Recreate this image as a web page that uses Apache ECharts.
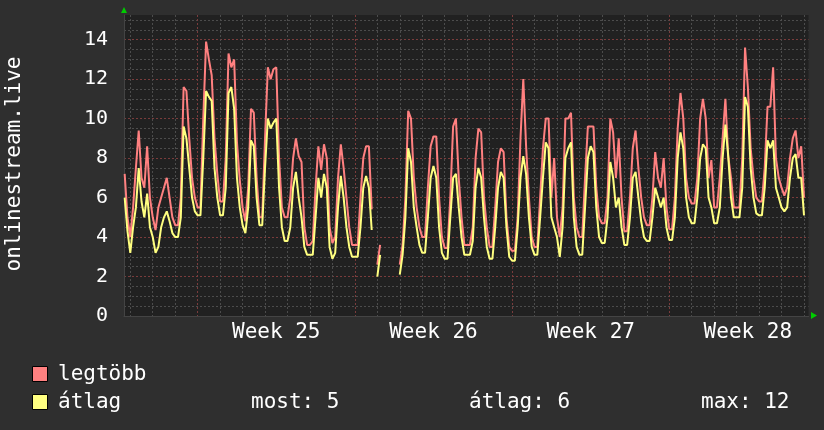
<!DOCTYPE html>
<html>
<head>
<meta charset="utf-8">
<script src="https://cdn.jsdelivr.net/npm/echarts@6/dist/echarts.min.js"></script>
<style>
  html, body { margin: 0; padding: 0; background: #2f2f2f; }
  #chart { width: 824px; height: 430px; }
</style>
</head>
<body>
<div id="chart"></div>
<script>
// x in days, 0 = monday of week 25, one sample every 3 hours
const startDay = -3.25;
const stepDay = 0.125;

const legtobb = [
  7.2, 5.0,
  4.0, 5.5, 7.5, 9.4, 7.0, 6.5, 8.6, 6.0,
  5.0, 4.35, 5.5, 6.0, 6.5, 7.0, 6.0, 5.0,
  4.6, 4.6, 6.0, 11.6, 11.4, 9.0, 7.0, 6.0,
  5.5, 5.5, 10.0, 13.9, 13.0, 12.2, 9.0, 7.2,
  5.8, 5.8, 8.0, 13.3, 12.6, 13.0, 8.8, 6.9,
  5.5, 4.8, 6.5, 10.5, 10.3, 7.0, 5.0, 5.0,
  9.0, 12.6, 12.0, 12.5, 12.6, 8.0, 5.5, 5.0,
  5.0, 6.0, 8.0, 9.0, 8.1, 7.8, 4.5, 3.6,
  3.6, 3.8, 6.5, 8.6, 7.4, 8.7, 8.0, 4.5,
  3.7, 4.0, 7.0, 8.7, 7.5, 6.0, 4.5, 3.6,
  3.6, 3.6, 6.0, 8.0, 8.6, 8.6, 5.4, null,
  2.6, 3.6, null, null, null, null, null, null,
  2.6, 3.6, 6.0, 10.4, 10.0, 7.0, 5.5, 4.5,
  4.0, 4.0, 6.5, 8.6, 9.1, 9.1, 6.0, 4.0,
  3.45, 3.45, 6.0, 9.6, 10.0, 7.0, 5.0, 3.6,
  3.6, 3.6, 4.5, 8.0, 9.5, 9.3, 6.0, 4.5,
  3.5, 3.5, 5.5, 7.8, 8.5, 8.3, 5.0, 3.5,
  3.3, 3.3, 5.0, 9.0, 12.0, 8.6, 6.0, 4.0,
  3.5, 3.5, 6.0, 8.5, 10.0, 10.0, 6.0, 8.0,
  5.0, 4.0, 5.5, 10.0, 10.0, 10.3, 6.0, 4.5,
  4.0, 4.0, 7.0, 9.6, 9.6, 9.6, 6.5, 5.0,
  4.7, 4.7, 6.0, 10.0, 9.3, 7.0, 9.0, 6.0,
  4.3, 4.3, 6.0, 8.5, 9.4, 7.5, 6.0, 5.0,
  4.6, 4.6, 6.0, 8.3, 7.0, 6.5, 8.0, 5.5,
  4.4, 4.4, 6.0, 9.5, 11.3, 10.0, 7.0, 6.0,
  5.7, 5.7, 7.0, 10.0, 11.0, 10.0, 7.0, 7.9,
  5.5, 5.5, 7.0, 9.0, 11.0, 8.1, 7.0, 5.5,
  5.5, 5.5, 8.0, 13.6, 11.6, 8.5, 7.0, 6.0,
  5.8, 5.8, 7.5, 10.6, 10.6, 12.6, 8.0, 7.0,
  6.5, 6.1, 6.5, 8.0, 9.0, 9.4, 8.0, 8.6,
  6.0
];

const atlag = [
  6.0, 4.3,
  3.2, 4.5, 5.5, 7.5, 5.8, 5.0, 6.2, 4.5,
  4.0, 3.2, 3.5, 4.5, 5.0, 5.3, 4.8, 4.2,
  4.0, 4.0, 5.0, 9.6, 9.0, 7.5, 6.0, 5.3,
  5.1, 5.1, 8.0, 11.4, 11.1, 10.9, 7.5, 6.0,
  5.1, 5.1, 6.5, 11.3, 11.6, 10.5, 7.0, 5.5,
  4.6, 4.2, 5.5, 8.9, 8.6, 6.0, 4.6, 4.6,
  7.5, 10.0, 9.5, 9.8, 10.0, 6.5, 4.5, 3.8,
  3.8, 4.5, 6.5, 7.3, 6.0, 5.0, 3.5, 3.1,
  3.1, 3.1, 5.0, 7.0, 6.0, 7.2, 6.5, 3.5,
  2.9, 3.2, 5.5, 7.1, 6.0, 4.5, 3.5, 3.0,
  3.0, 3.0, 4.5, 6.5, 7.1, 6.5, 4.36, null,
  2.0, 3.1, null, null, null, null, null, null,
  2.1, 3.1, 5.0, 8.5, 7.8, 5.5, 4.5, 3.6,
  3.2, 3.2, 5.0, 7.0, 7.6, 7.0, 4.5, 3.2,
  2.9, 2.9, 5.0, 7.0, 7.2, 5.5, 4.0, 3.1,
  3.1, 3.1, 3.8, 6.5, 7.5, 7.0, 5.0, 3.5,
  2.9, 2.9, 4.5, 6.5, 7.3, 7.0, 4.5, 3.0,
  2.8, 2.8, 4.5, 7.0, 8.1, 7.2, 5.0, 3.5,
  3.1, 3.1, 5.0, 7.0, 8.8, 8.5, 5.0, 4.5,
  4.0, 3.0, 4.5, 8.0, 8.5, 8.8, 5.0, 3.5,
  3.1, 3.1, 5.5, 8.0, 8.6, 8.3, 5.5, 4.0,
  3.7, 3.7, 5.0, 7.8, 7.0, 5.5, 6.0, 4.5,
  3.6, 3.6, 5.0, 7.0, 7.3, 6.0, 4.8, 4.0,
  3.8, 3.8, 5.0, 6.5, 6.0, 5.5, 6.0, 4.5,
  3.85, 3.85, 5.0, 8.0, 9.3, 8.5, 6.0, 5.0,
  4.7, 4.7, 6.0, 8.0, 8.7, 8.5, 6.0, 5.5,
  4.7, 4.7, 5.5, 8.0, 9.7, 8.1, 6.0, 5.0,
  5.0, 5.0, 6.5, 11.1, 10.6, 7.5, 6.0, 5.2,
  5.1, 5.1, 6.5, 8.9, 8.5, 8.9, 6.5, 6.0,
  5.5, 5.3, 5.5, 7.0, 8.0, 8.2, 7.0, 7.0,
  5.1
];

const yTicks = [0, 2, 4, 6, 8, 10, 12, 14];
const weekStarts = [0, 7, 14, 21];
const weekCenters = [3.5, 10.5, 17.5, 24.5];
const weekLabels = ["Week 25", "Week 26", "Week 27", "Week 28"];
const legendStats = ["most: 5", "átlag: 6", "max: 12"];

const FONT = "DejaVu Sans Mono";
const X_MIN = -3.28, X_MAX = 27.2;
const Y_MIN = 0, Y_MAX = 15.25;

// minor grid: every day / every half unit, except where a major line sits
const dayLines = [];
for (let d = -3; d <= 27; d++) if (weekStarts.indexOf(d) < 0) dayLines.push(d);
const halfLines = [];
for (let v = 0.5; v <= 15; v += 0.5) if (v % 2 !== 0) halfLines.push(v);

const toPoints = (arr) => arr.map((v, i) => [startDay + i * stepDay, v]);

const chart = echarts.init(document.getElementById("chart"));

const major = "#7a3c3c";
const minor = "#4c4c4c";
const dotted = (color) => ({ show: true, lineStyle: { type: [2, 2], width: 1, color } });
const hidden = { show: false };

const option = {
  backgroundColor: "#2f2f2f",
  animation: false,
  grid: {
    left: 124, right: 15.5, top: 15, bottom: 114,
    show: true, backgroundColor: "#212121", borderWidth: 0
  },
  xAxis: [
    {
      type: "value", min: X_MIN, max: X_MAX,
      axisLine: { show: true, onZero: false, lineStyle: { color: "#444", width: 1 } },
      axisTick: { show: false, customValues: dayLines },
      axisLabel: {
        customValues: weekCenters,
        color: "#ffffff",
        fontFamily: FONT,
        fontSize: 21,
        margin: 6,
        formatter: (v) => weekLabels[weekCenters.indexOf(v)] || ""
      },
      splitLine: dotted(minor)
    },
    {
      type: "value", min: X_MIN, max: X_MAX, position: "bottom",
      axisLine: hidden, axisLabel: hidden,
      axisTick: { show: false, customValues: weekStarts },
      splitLine: dotted(major)
    }
  ],
  yAxis: [
    {
      type: "value", min: Y_MIN, max: Y_MAX,
      axisLine: { show: true, onZero: false, lineStyle: { color: "#444", width: 1 } },
      axisTick: { show: false, customValues: halfLines },
      axisLabel: {
        customValues: yTicks,
        color: "#ffffff",
        fontFamily: FONT,
        fontSize: 20,
        margin: 16
      },
      splitLine: dotted(minor)
    },
    {
      type: "value", min: Y_MIN, max: Y_MAX, position: "left",
      axisLine: hidden, axisLabel: hidden,
      axisTick: { show: false, customValues: yTicks },
      splitLine: dotted(major)
    }
  ],
  series: [
    {
      name: "legtöbb",
      type: "line",
      data: toPoints(legtobb),
      showSymbol: false,
      connectNulls: false,
      lineStyle: { color: "#ff8080", width: 2 },
      z: 3
    },
    {
      name: "átlag",
      type: "line",
      data: toPoints(atlag),
      showSymbol: false,
      connectNulls: false,
      lineStyle: { color: "#ffff80", width: 2 },
      z: 4
    }
  ],
  graphic: [
    {
      type: "text", x: 14.5, y: 164, rotation: Math.PI / 2,
      style: { text: "onlinestream.live", fill: "#fff", font: "21px " + FONT, align: "center", verticalAlign: "middle" }
    },
    { type: "polygon", shape: { points: [[121, 13], [127, 13], [124, 7]] }, style: { fill: "#00cc00" } },
    { type: "polygon", shape: { points: [[811, 312], [811, 319], [817, 315.5]] }, style: { fill: "#00cc00" } },
    { type: "rect", shape: { x: 32.5, y: 366.5, width: 15, height: 15 }, style: { fill: "#ff8080", stroke: "#000", lineWidth: 1 } },
    { type: "rect", shape: { x: 32.5, y: 394.5, width: 15, height: 15 }, style: { fill: "#ffff80", stroke: "#000", lineWidth: 1 } },
    { type: "text", x: 58, y: 375, style: { text: "legtöbb", fill: "#fff", font: "21px " + FONT, verticalAlign: "middle" } },
    { type: "text", x: 58, y: 403, style: { text: "átlag", fill: "#fff", font: "21px " + FONT, verticalAlign: "middle" } },
    { type: "text", x: 251, y: 403, style: { text: legendStats[0], fill: "#fff", font: "21px " + FONT, verticalAlign: "middle" } },
    { type: "text", x: 469, y: 403, style: { text: legendStats[1], fill: "#fff", font: "21px " + FONT, verticalAlign: "middle" } },
    { type: "text", x: 701, y: 403, style: { text: legendStats[2], fill: "#fff", font: "21px " + FONT, verticalAlign: "middle" } }
  ]
};

chart.setOption(option);
</script>
</body>
</html>
